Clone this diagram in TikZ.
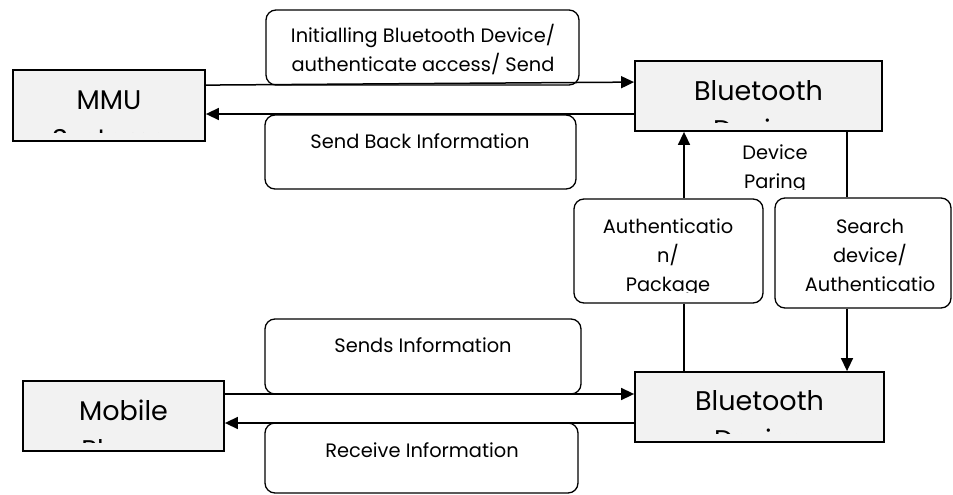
\documentclass[tikz,border=0pt]{standalone}
\usepackage{fontspec}
\setmainfont{Poppins}
\usetikzlibrary{arrows.meta}
\newcommand\mylines[1]{\begin{tabular}[t]{@{}c@{}}#1\end{tabular}}
\definecolor{boxgray}{HTML}{F2F2F2}
\begin{document}
\begin{tikzpicture}[x=1pt,y=-1pt,
  gbox/.style={draw, fill=boxgray, line width=1.8pt, rectangle, inner sep=0pt},
  rbox/.style={draw, fill=white, rounded corners=10pt, line width=1.3pt, inner sep=0pt},
  big/.style={font=\fontsize{27}{39}\selectfont, inner sep=0pt, anchor=base},
  small/.style={font=\fontsize{19.4}{29}\selectfont, inner sep=0pt, anchor=base},
  conn/.style={line width=1.5pt},
  arr/.style={conn, -{Triangle[length=13pt,width=12pt]}}]
\fill[white] (0,0) rectangle (953,495);
\useasboundingbox (0,0) rectangle (953,495);

% rounded label boxes
\node[rbox, minimum width=313pt, minimum height=75pt] (b1) at (422.5,47.5) {};
\node[rbox, minimum width=311pt, minimum height=74pt] (b2) at (420.5,152) {};
\node[rbox, minimum width=189pt, minimum height=104pt] (auth) at (668.5,251) {};
\node[rbox, minimum width=176pt, minimum height=110pt] (srch) at (863,253) {};
\node[rbox, minimum width=316pt, minimum height=75pt] (b3) at (423,356.5) {};
\node[rbox, minimum width=313pt, minimum height=70pt] (b4) at (421.5,458) {};

% grey boxes
\node[gbox, minimum width=192pt, minimum height=71pt] (mmu) at (109,105.5) {};
\node[gbox, minimum width=247pt, minimum height=70pt] (bt1) at (758.5,96) {};
\node[gbox, minimum width=201pt, minimum height=70pt] (mob) at (123.5,416) {};
\node[gbox, minimum width=249pt, minimum height=70pt] (bt2) at (759.5,407) {};

% grey box texts (clipped)
\begin{scope}
\clip (mmu.north west) rectangle ([yshift=9pt]mmu.south east);
\node[big] (mmut) at (109,110) {\mylines{MMU\\Systems}};
\end{scope}
\begin{scope}
\clip (bt1.north west) rectangle ([yshift=9pt]bt1.south east);
\node[big] (bt1t) at (758.5,100) {\mylines{Bluetooth\\Device}};
\end{scope}
\begin{scope}
\clip (mob.north west) rectangle ([yshift=9pt]mob.south east);
\node[big] (mobt) at (123.5,420) {\mylines{Mobile\\Phone}};
\end{scope}
\begin{scope}
\clip (bt2.north west) rectangle ([yshift=9pt]bt2.south east);
\node[big] (bt2t) at (759.5,410) {\mylines{Bluetooth\\Device}};
\end{scope}

% rounded box texts
\node[small] (b1t) at (423,43) {\mylines{Initialling Bluetooth Device/\\authenticate access/ Send}};
\node[small] (b2t) at (420,148) {Send Back Information};
\node[small] (b3t) at (423,352) {Sends Information};
\node[small] (b4t) at (422,457) {Receive Information};
\begin{scope}
\clip (auth.north west) rectangle ([yshift=11.5pt]auth.south east);
\node[small] (autht) at (668,233) {\mylines{Authenticatio\\n/\\Package}};
\end{scope}
\node[small] (srcht) at (870,233) {\mylines{Search\\device/\\Authenticatio}};
\begin{scope}
\clip (725,140) rectangle (825,189);
\node[small] (dp) at (775,159) {\mylines{Device\\Paring}};
\end{scope}

% connectors
\draw[arr] ([yshift=-16pt]mmu.north east) -- ([yshift=-22pt]bt1.north west);
\coordinate (r1) at ([yshift=-18pt]bt1.west);
\draw[arr] (r1) -- (r1 -| mmu.east);
\coordinate (f2) at ([yshift=22pt]mob.east);
\draw[arr] (f2) -- (f2 -| bt2.west);
\coordinate (r2) at ([yshift=-16pt]bt2.west);
\draw[arr] (r2) -- (r2 -| mob.east);

\coordinate (ua) at ([xshift=15.5pt]auth.north);
\draw[arr] (ua) -- (ua |- bt1.south);
\coordinate (da) at ([xshift=15.5pt]auth.south);
\draw[conn] (da) -- (da |- bt2.north);
\coordinate (us) at ([xshift=-16pt]srch.north);
\draw[conn] (us |- bt1.south) -- (us);
\coordinate (ds) at ([xshift=-16pt]srch.south);
\draw[arr] (ds) -- (ds |- bt2.north);
\end{tikzpicture}
\end{document}
